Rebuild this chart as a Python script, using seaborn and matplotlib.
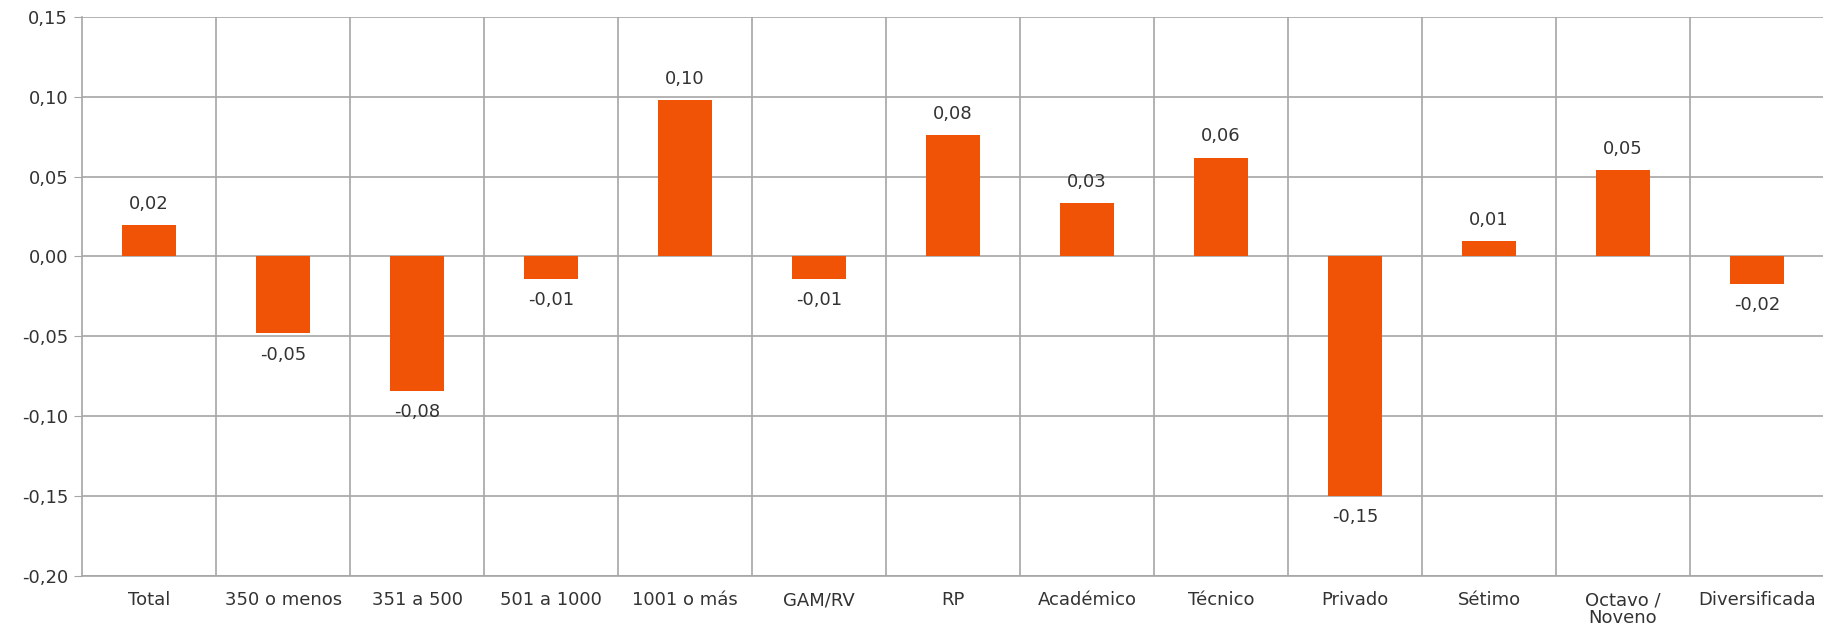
import matplotlib
matplotlib.use("Agg")
import matplotlib.pyplot as plt
import seaborn as sns
import pandas as pd
from matplotlib.ticker import FuncFormatter

categories = ["Total", "350 o menos", "351 a 500", "501 a 1000", "1001 o más", "GAM/RV",
              "RP", "Académico", "Técnico", "Privado", "Sétimo", "Octavo /\nNoveno",
              "Diversificada"]
values = [0.0197, -0.048, -0.084, -0.014, 0.098, -0.014,
          0.076, 0.0335, 0.062, -0.150, 0.0095, 0.054, -0.017]

df = pd.DataFrame({"grupo": categories, "valor": values})

sns.set_style("white")
plt.rcParams["font.family"] = ["DejaVu Sans"]

grid_color = "#a6a6a6"
text_color = "#333333"
bar_color = "#f05206"

fig = plt.figure(figsize=(18.24, 6.3), dpi=100)
ax = fig.add_axes([0.045, 0.086, 0.955, 0.887])

sns.barplot(data=df, x="grupo", y="valor", color=bar_color, width=0.4,
            saturation=1, linewidth=0, edgecolor="none", ax=ax, zorder=3)

ax.set_ylim(-0.20, 0.15)
ax.set_xlim(-0.5, len(categories) - 0.5)
ax.set_yticks([-0.20, -0.15, -0.10, -0.05, 0.0, 0.05, 0.10, 0.15])
ax.yaxis.set_major_formatter(FuncFormatter(lambda v, p: f"{v:.2f}".replace(".", ",")))

# vertical lines between categories
ax.set_xticks([i + 0.5 for i in range(len(categories) - 1)], minor=True)
ax.grid(axis="y", which="major", color=grid_color, linewidth=1.2, zorder=0)
ax.grid(axis="x", which="minor", color=grid_color, linewidth=1.2, zorder=0)

ax.tick_params(axis="y", which="major", length=6, color=grid_color, labelsize=13,
               labelcolor=text_color, left=True, pad=4)
ax.tick_params(axis="x", which="both", length=0, labelsize=13, labelcolor=text_color, pad=11)
for lbl in ax.get_xticklabels():
    lbl.set_linespacing(1.0)
ax.set_xlabel("")
ax.set_ylabel("")

for side in ["top", "right"]:
    ax.spines[side].set_visible(False)
for side in ["left", "bottom"]:
    ax.spines[side].set_color(grid_color)
    ax.spines[side].set_linewidth(1.2)

labels = [f"{v:.2f}".replace(".", ",") for v in values]
ax.bar_label(ax.containers[0], labels=labels, padding=9, fontsize=13, color=text_color)

fig.savefig("out.png", dpi=100)
